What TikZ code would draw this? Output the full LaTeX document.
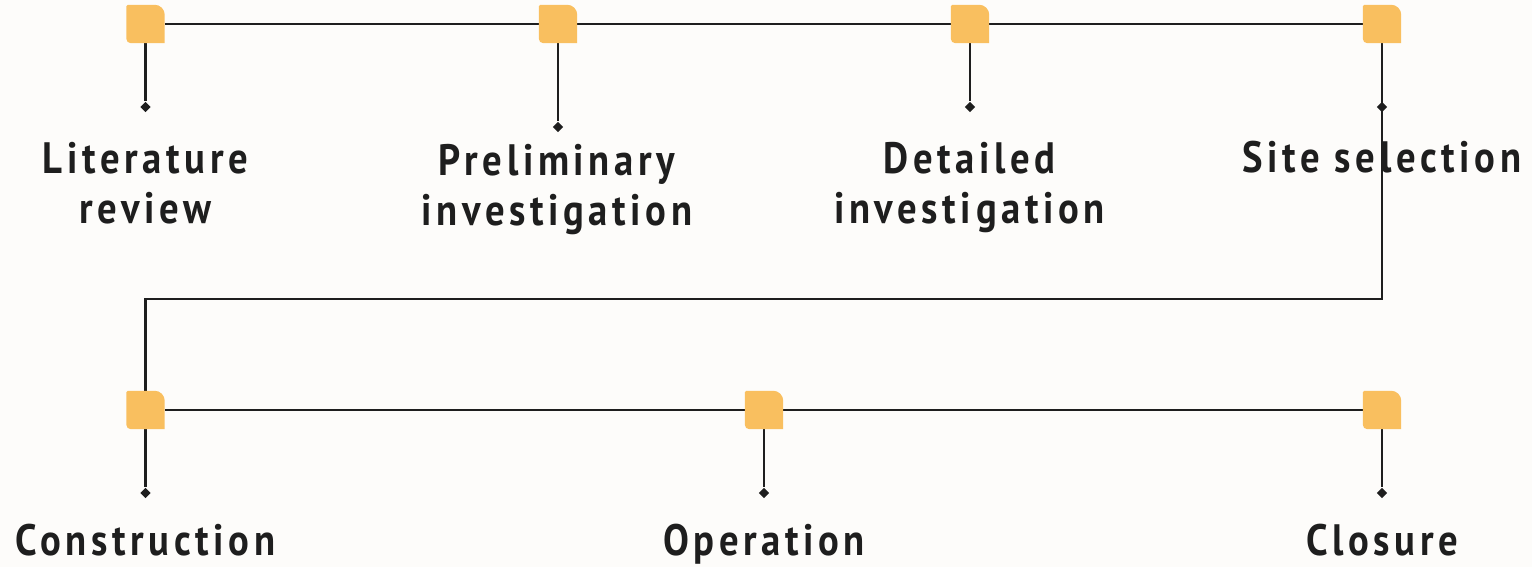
\documentclass[tikz,border=0pt]{standalone}
\usepackage{fontspec}
\usepackage{tikz}
\usetikzlibrary{shapes.geometric, positioning}
\newfontfamily\stagefont[LetterSpace=10.5, FakeStretch=0.88]{PT Sans}
\definecolor{markfill}{HTML}{F9BF5F}
\definecolor{linecol}{HTML}{1E1E1E}
\definecolor{bgcol}{HTML}{FDFCFA}

\begin{document}
\begin{tikzpicture}[x=0.01cm, y=-0.01cm,
    marker/.style={rectangle, minimum size=0.37cm, inner sep=0},
    tipmark/.style={diamond, fill=linecol, inner sep=0, minimum width=0.11cm, minimum height=0.11cm},
    link/.style={draw=linecol, line width=0.75pt},
    stage/.style={align=center, font=\stagefont\bfseries\fontsize{12.5}{14.3}\selectfont,
                  text=linecol, inner sep=0, anchor=base},
]
\fill[bgcol] (0,0) rectangle (1532,567);

% markers
\node[marker] (m1) at (145.5,24)  {};
\node[marker] (m2) at (558,24)    {};
\node[marker] (m3) at (970,24)    {};
\node[marker] (m4) at (1382,24)   {};
\node[marker] (m5) at (145.5,410) {};
\node[marker] (m6) at (764,410)   {};
\node[marker] (m7) at (1382,410)  {};

% stem ends
\node[tipmark] (d1) at (145.5,107) {};
\node[tipmark] (d2) at (558,127)   {};
\node[tipmark] (d3) at (970,107)   {};
\node[tipmark] (d4) at (1382,107)  {};
\node[tipmark] (d5) at (145.5,493) {};
\node[tipmark] (d6) at (764,493)   {};
\node[tipmark] (d7) at (1382,493)  {};
\coordinate (c1) at (1382,299);
\coordinate (c2) at (145.5,299);

\draw[link] (m1) -- (m2) -- (m3) -- (m4);
\draw[link] (m5) -- (m6) -- (m7);
\draw[link] (m1) -- (d1);
\draw[link] (m2) -- (d2);
\draw[link] (m3) -- (d3);
\draw[link] (m4) -- (c1) -- (c2) -- (m5);
\draw[link] (m5) -- (d5);
\draw[link] (m6) -- (d6);
\draw[link] (m7) -- (d7);

\foreach \m in {m1,m2,m3,m4,m5,m6,m7}
  \fill[markfill] (\m.north) [rounded corners=0.1cm] -- (\m.north east) [sharp corners]
    -- (\m.south east) [rounded corners=0.045cm] -- (\m.south west) [rounded corners=0.015cm]
    -- (\m.north west) -- cycle;

% labels
\node[stage] (s1) at (145.5,224) {Literature\\review};
\node[stage] (s2) at (557,226)   {Preliminary\\investigation};
\node[stage] (s3) at (969.5,224) {Detailed\\investigation};
\node[stage] (s4) at (1382,173)  {Site selection};
\node[stage] (s5) at (145.5,556) {Construction};
\node[stage] (s6) at (764,556)   {Operation};
\node[stage] (s7) at (1382,556)  {Closure};
\end{tikzpicture}
\end{document}
